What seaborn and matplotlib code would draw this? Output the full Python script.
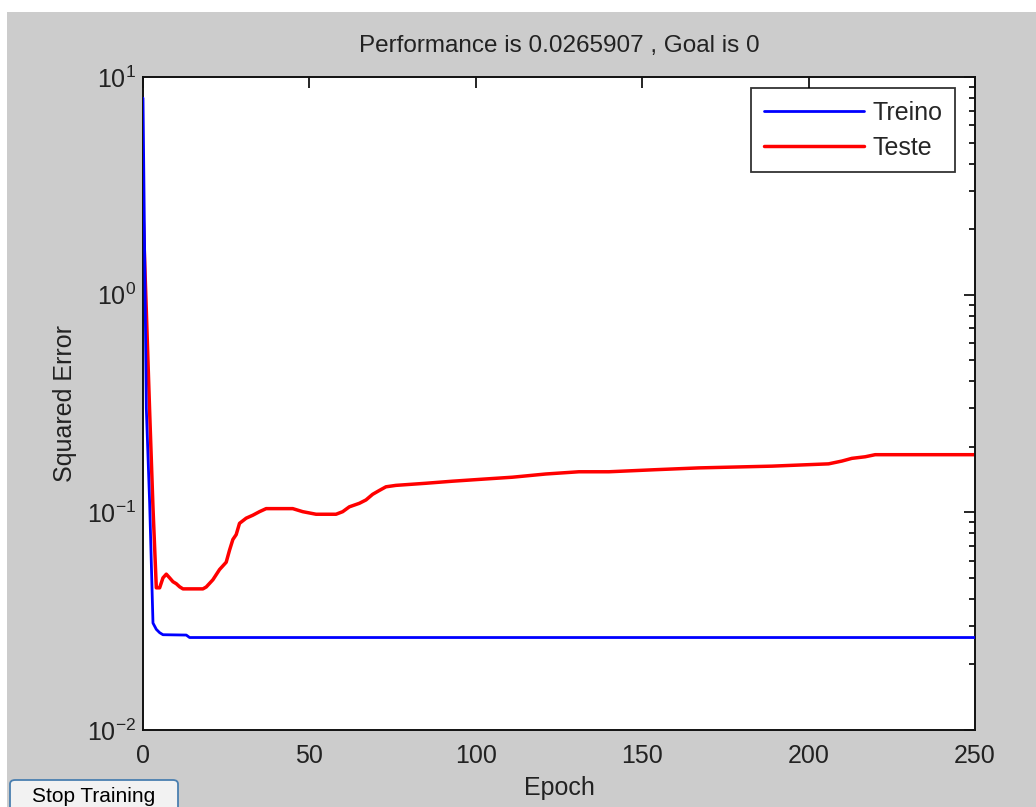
import matplotlib
matplotlib.use("Agg")
import matplotlib.pyplot as plt
from matplotlib.patches import Rectangle, FancyBboxPatch
import pandas as pd
import seaborn as sns

# training curve (Treino)
treino_epoch = [0, 1, 2, 3, 4, 5, 6, 13, 14, 250]
treino_err = [8.0, 0.30, 0.11, 0.031, 0.029, 0.028, 0.0274, 0.0273, 0.0266, 0.0266]

# test curve (Teste)
teste_epoch = [0, 1, 2, 3, 4, 5, 6, 7, 8, 9, 10, 11, 12, 18, 19, 21, 23, 25, 26,
               27, 28, 29, 31, 33, 35, 37, 45, 48, 52, 58, 60, 62, 65, 67, 69,
               71, 73, 76, 85, 93, 102, 111, 121, 131, 140, 154, 167, 189, 206,
               210, 213, 217, 220, 250]
teste_err = [2.4, 0.84, 0.29, 0.105, 0.045, 0.045, 0.050, 0.052, 0.050, 0.048,
             0.047, 0.0455, 0.0445, 0.0445, 0.0454, 0.049, 0.0546, 0.059, 0.067,
             0.075, 0.079, 0.089, 0.094, 0.097, 0.1007, 0.104, 0.104, 0.1007,
             0.098, 0.098, 0.1007, 0.106, 0.110, 0.114, 0.121, 0.126, 0.131,
             0.133, 0.136, 0.139, 0.142, 0.145, 0.150, 0.1536, 0.1536, 0.157,
             0.160, 0.163, 0.167, 0.172, 0.177, 0.180, 0.184, 0.184]

title = "Performance is 0.0265907 , Goal is 0"

sns.set_style("white")
plt.rcParams["font.family"] = ["Liberation Sans", "DejaVu Sans"]
plt.rcParams["mathtext.fontset"] = "custom"
plt.rcParams["mathtext.rm"] = "Liberation Sans"
plt.rcParams["mathtext.it"] = "Liberation Sans"

W, H = 1036, 807
fig = plt.figure(figsize=(W / 100, H / 100), dpi=100, facecolor="white")
fig.patches.append(Rectangle((7 / W, 0), 1, 1 - 12 / H,
                             transform=fig.transFigure, facecolor="#cccccc",
                             edgecolor="none", zorder=-10))
ax = fig.add_axes([143 / W, 1 - 730 / H, 832 / W, 653 / H])
ax.set_facecolor("white")

df_tr = pd.DataFrame({"Epoch": treino_epoch, "err": treino_err})
df_te = pd.DataFrame({"Epoch": teste_epoch, "err": teste_err})
sns.lineplot(data=df_tr, x="Epoch", y="err", ax=ax, color="#0000ff",
             linewidth=2.0, label="Treino", estimator=None, zorder=3)
sns.lineplot(data=df_te, x="Epoch", y="err", ax=ax, color="#ff0000",
             linewidth=2.5, label="Teste", estimator=None, zorder=2)

ax.set_yscale("log")
ax.set_ylim(1e-2, 1e1)
ax.set_xlim(0, 250)
ax.set_xticks([0, 50, 100, 150, 200, 250])
ax.tick_params(which="both", direction="in", top=True, right=True,
               labelsize=18, color="black", width=1.2, labelcolor="#222222")
ax.tick_params(which="major", length=8)
ax.tick_params(axis="x", which="major", pad=10)
ax.tick_params(axis="y", which="major", pad=5)
ax.tick_params(which="minor", length=4)
ax.tick_params(axis="x", which="minor", bottom=False, top=False)
for s in ax.spines.values():
    s.set_color("#111111")
    s.set_linewidth(1.4)

ax.set_title(title, fontsize=17.5, pad=18, color="#222222")
ax.set_xlabel("Epoch", fontsize=18, labelpad=6, color="#222222")
ax.set_ylabel("Squared Error", fontsize=18, labelpad=7, color="#222222")

leg = ax.legend(loc="upper right", bbox_to_anchor=(0.976, 0.983), fontsize=18,
                frameon=True, fancybox=False, handlelength=4.0,
                borderpad=0.5, labelspacing=0.45, handletextpad=0.35,
                borderaxespad=0)
leg.get_frame().set_edgecolor("black")
leg.get_frame().set_linewidth(1.3)

fig.patches.append(FancyBboxPatch((10 / W, -0.02), 168 / W, 0.02 + 27 / H,
                                  boxstyle="round,pad=0,rounding_size=0.005",
                                  transform=fig.transFigure,
                                  facecolor="#f2f2f2", edgecolor="#4a7fb0",
                                  linewidth=1.3, zorder=5))
fig.text(94 / W, 1 - 796 / H, "Stop Training", fontsize=15, ha="center",
         va="center", color="black", zorder=6)

fig.savefig("out.png", dpi=100, facecolor=fig.get_facecolor())
